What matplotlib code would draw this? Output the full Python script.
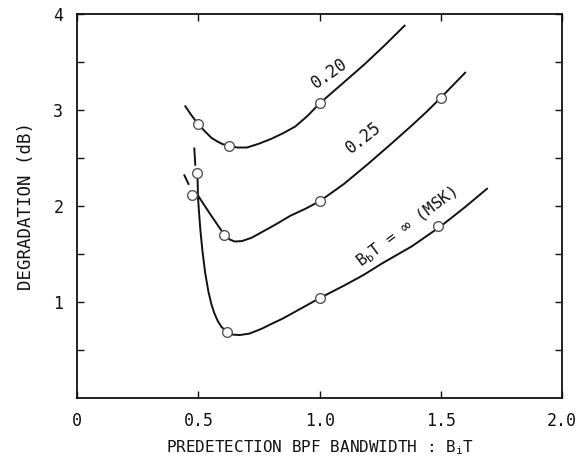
import numpy as np
import matplotlib.pyplot as plt

plt.rcParams['font.family'] = ['DejaVu Sans Mono', 'DejaVu Sans']
plt.rcParams['mathtext.fontset'] = 'custom'
plt.rcParams['mathtext.rm'] = 'DejaVu Sans Mono'

nan = np.nan

# curve for BbT = 0.20
x20 = [0.446, 0.47, 0.50, 0.53, 0.554, 0.58, 0.60, 0.624, 0.66, 0.70, 0.75, 0.80, 0.85, 0.90, 0.95,
       1.0, 1.05, 1.10, 1.186, 1.27, 1.35]
y20 = [3.04, 2.95, 2.85, 2.77, 2.71, 2.67, 2.645, 2.63, 2.61, 2.61, 2.65, 2.70, 2.76, 2.83, 2.94,
       3.07, 3.18, 3.29, 3.48, 3.68, 3.88]
mx20 = [0.50, 0.624, 1.0]
my20 = [2.85, 2.63, 3.07]

# curve for BbT = 0.25 (short stub, gap, then the curve)
x25 = [0.483, 0.487, nan, 0.496, 0.498, 0.55, 0.607, 0.63, 0.65, 0.68, 0.72, 0.77, 0.82, 0.88, 0.94,
       1.0, 1.05, 1.10, 1.20, 1.30, 1.38, 1.44, 1.5, 1.55, 1.60]
y25 = [2.60, 2.43, nan, 2.34, 2.11, 1.91, 1.70, 1.65, 1.63, 1.635, 1.67, 1.74, 1.81, 1.90, 1.97,
       2.05, 2.14, 2.23, 2.44, 2.66, 2.84, 2.98, 3.13, 3.26, 3.39]
mx25 = [0.496, 0.607, 1.0, 1.5]
my25 = [2.34, 1.70, 2.05, 3.13]

# curve for BbT = inf (MSK)
xmsk = [0.442, 0.459, nan, 0.475, 0.498, 0.502, 0.508, 0.517, 0.528, 0.541, 0.553, 0.566, 0.58, 0.595,
        0.616, 0.64, 0.67, 0.71, 0.76, 0.80, 0.85, 0.90, 0.95, 1.0, 1.10, 1.18, 1.256, 1.38, 1.5,
        1.60, 1.69]
ymsk = [2.32, 2.23, nan, 2.12, 2.10, 1.95, 1.75, 1.52, 1.30, 1.11, 0.98, 0.88, 0.80, 0.74,
        0.69, 0.66, 0.655, 0.67, 0.72, 0.77, 0.83, 0.90, 0.97, 1.04, 1.17, 1.28, 1.40, 1.58, 1.79,
        1.99, 2.18]
mxmsk = [0.475, 0.616, 1.0, 1.488]
mymsk = [2.12, 0.69, 1.04, 1.79]

fig = plt.figure(figsize=(5.76, 4.72), dpi=100)
ax = fig.add_axes([0.134, 0.157, 0.842, 0.813])

ink = '#111111'
for x, y in [(x20, y20), (x25, y25), (xmsk, ymsk)]:
    ax.plot(x, y, color=ink, lw=1.4, zorder=2)
for x, y in [(mx20, my20), (mx25, my25), (mxmsk, mymsk)]:
    ax.plot(x, y, ls='none', marker='o', ms=7, mfc='white', mec='#555555', mew=1.0, zorder=3)

ax.text(1.04, 3.38, '0.20', rotation=35, ha='center', va='center', fontsize=12, color=ink)
ax.text(1.18, 2.71, '0.25', rotation=38, ha='center', va='center', fontsize=12, color=ink)
ax.text(1.36, 1.78, r'B$_\mathregular{b}$T = ∞ (MSK)', rotation=37, ha='center', va='center',
        fontsize=11.5, color=ink)

ax.set_xlim(0, 2.0)
ax.set_ylim(0, 4.0)
ax.set_xticks([0, 0.5, 1.0, 1.5, 2.0])
ax.set_xticklabels(['0', '0.5', '1.0', '1.5', '2.0'])
ax.set_yticks([0.5, 1, 1.5, 2, 2.5, 3, 3.5, 4])
ax.set_yticklabels(['', '1', '', '2', '', '3', '', '4'])
ax.tick_params(direction='in', top=True, right=True, length=5, width=1, labelsize=12,
               colors=ink, pad=10)
ax.tick_params(axis='x', pad=10)
for s in ax.spines.values():
    s.set_linewidth(1.3)
    s.set_color(ink)

ax.set_xlabel(r'PREDETECTION BPF BANDWIDTH : B$_\mathregular{i}$T', fontsize=11.5, color=ink, labelpad=6)
ax.set_ylabel('DEGRADATION (dB)', fontsize=12.5, color=ink, labelpad=13)

fig.savefig('out.png', dpi=100)
